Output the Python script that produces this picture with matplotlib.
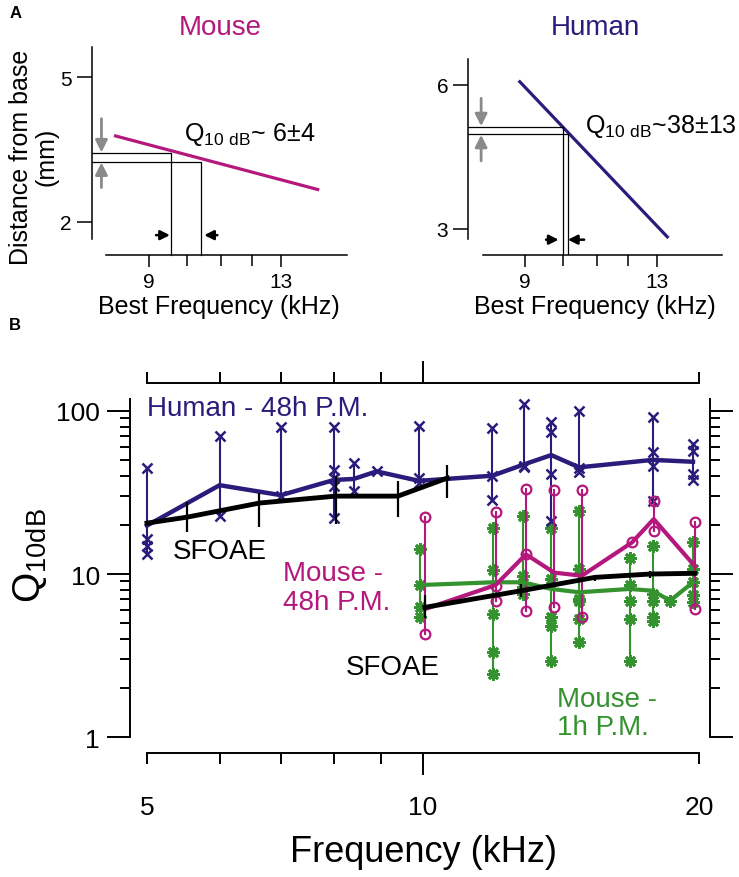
import numpy as np
import matplotlib.pyplot as plt
from matplotlib.ticker import LogLocator, NullFormatter

plt.rcParams['font.family'] = ['Liberation Sans', 'DejaVu Sans']
plt.rcParams['mathtext.fontset'] = 'custom'
plt.rcParams['mathtext.rm'] = 'Liberation Sans'

navy = '#2d1b7b'
magenta = '#b5187d'
green = '#34922f'
gray = '#8a8a8a'

# ---- panel A: place maps ----
mouse_map_f = [8.18, 14.44]
mouse_map_d = [3.79, 2.66]
mouse_band_f = [9.58, 10.40]
mouse_band_d = [3.42, 3.25]

human_map_f = [8.85, 13.43]
human_map_d = [6.09, 2.81]
human_band_f = [10.00, 10.15]
human_band_d = [5.12, 4.98]

# ---- panel B: Q10dB vs frequency ----
human_f = [5.0, 6.0, 7.0, 8.0, 8.4, 8.9, 9.9, 11.9, 12.9, 13.8, 14.8, 17.8, 19.7]
human_mean = [19.8, 35, 30.4, 37.7, 38.2, 42.5, 37.2, 40, 47, 53.5, 45, 50, 48.7]
human_pts = [[44.5, 16.4, 14.9, 13.2], [70.3, 22.7], [79.8, 30.2],
             [79, 43.4, 38.5, 34.7, 21.9], [47.6, 32.1], [42.5],
             [81, 38.5, 36.1], [78, 40, 28.5], [110, 46, 45],
             [85, 73.7, 41, 21.2], [100, 44.4, 42], [91, 55.5, 46, 28],
             [62.5, 56.9, 41, 37.6]]

mouse48_f = [10.05, 12.0, 12.95, 13.9, 14.9, 16.9, 17.85, 19.8]
mouse48_mean = [6.1, 8.56, 13.2, 10.2, 9.76, 15.6, 21.7, 11.15]
mouse48_pts = [[22.2, 4.29], [24.1, 8.5, 6.87], [33.2, 13.2, 5.96], [32.7, 6.25],
               [32.7, 5.43], [15.6], [28.1, 18.4], [20.9, 6.1]]

mouse1_f = [9.93, 11.93, 12.85, 13.8, 14.8, 16.8, 17.8, 18.6, 19.7]
mouse1_mean = [8.56, 8.9, 8.9, 8.1, 7.73, 8.1, 7.9, 6.87, 8.9]
mouse1_pts = [[14.2, 8.56, 6.25, 5.43], [19.1, 10.6, 5.7, 3.31, 2.45],
              [22.7, 9.76, 8.3, 7.5], [19.1, 9.3, 5.43, 4.83, 2.95],
              [24.4, 10.7, 7.03, 6.87, 5.3, 3.81], [12.6, 8.56, 6.87, 5.3, 2.95],
              [14.9, 7.5, 6.87, 5.43, 5.18], [6.87], [15.6, 10.7, 8.9, 7.4, 6.7]]

human_sfoae_f = [5.0, 5.53, 6.63, 8.03, 9.39, 10.63]
human_sfoae_q = [20.5, 22.3, 27.2, 30, 30, 38.7]
human_sfoae_lo = [20.5, 18.1, 19.4, 20.2, 22.3, 29.2]
human_sfoae_hi = [20.5, 27.6, 31.3, 40.0, 37.2, 46.5]

mouse_sfoae_f = [10.05, 12.8, 15.4, 17.7, 19.8]
mouse_sfoae_q = [6.25, 7.9, 9.54, 10.0, 10.1]
mouse_sfoae_lo = [5.35, 7.2, 9.0, 9.5, 10.1]
mouse_sfoae_hi = [7.4, 8.7, 9.9, 10.5, 10.1]

fig = plt.figure(figsize=(7.39, 8.78), dpi=100)
W, H = 739, 878


def px_axes(l, t, r, b):
    return fig.add_axes([l / W, 1 - b / H, (r - l) / W, (b - t) / H])


def map_panel(ax, line_f, line_d, band_f, band_d, color, ylim, yticks, floor,
              arrow_f, gray_y, black_y, black_x, qtext, qpos, title, title_x):
    ax.set_xscale('log')
    ax.set_xlim(7.69, 15.58)
    ax.set_ylim(*ylim)
    for s in ['top', 'right']:
        ax.spines[s].set_visible(False)
    ax.spines['bottom'].set_position(('outward', 11.2))
    ax.spines['bottom'].set_bounds(8.01, 15.58)
    for s in ['left', 'bottom']:
        ax.spines[s].set_linewidth(1.1)
    ax.set_yticks(yticks, labels=[str(v) for v in yticks])
    ax.set_xticks([9, 13], labels=['9', '13'])
    ax.set_xticks([10, 11, 12], minor=True, labels=['', '', ''])
    ax.tick_params(axis='y', length=11, width=1.1, pad=3.5, labelsize=15)
    ax.tick_params(axis='x', which='major', length=8.6, width=1.1, pad=4, labelsize=15)
    ax.tick_params(axis='x', which='minor', length=8, width=1.1)
    ax.patch.set_alpha(0)

    ax.plot(line_f, line_d, color=color, lw=2.3, solid_capstyle='butt')
    x0 = ax.get_xlim()[0]
    for f, d in zip(band_f, band_d):
        ax.plot([x0, f, f], [d, d, floor], color='black', lw=0.9, clip_on=False)

    aprops = dict(arrowstyle='-|>', color=gray, lw=2, mutation_scale=18,
                  shrinkA=0, shrinkB=0)
    ax.annotate('', xy=(arrow_f, gray_y[1]), xytext=(arrow_f, gray_y[0]),
                arrowprops=aprops, annotation_clip=False)
    ax.annotate('', xy=(arrow_f, gray_y[3]), xytext=(arrow_f, gray_y[2]),
                arrowprops=aprops, annotation_clip=False)
    bprops = dict(arrowstyle='-|>', color='black', lw=1.8, mutation_scale=14,
                  shrinkA=0, shrinkB=0)
    ax.annotate('', xy=(black_x[1], black_y), xytext=(black_x[0], black_y),
                arrowprops=bprops, annotation_clip=False)
    ax.annotate('', xy=(black_x[3], black_y), xytext=(black_x[2], black_y),
                arrowprops=bprops, annotation_clip=False)

    ax.text(qpos[0], qpos[1], qtext, fontsize=18, ha='left', va='baseline')
    fig.text(title_x / W, 1 - 28 / H, title, color=color, fontsize=20,
             ha='center', va='center')
    ax.set_xlabel('Best Frequency (kHz)', fontsize=18, labelpad=2)


ax1 = px_axes(91.7, 48, 346.7, 240)
map_panel(ax1, mouse_map_f, mouse_map_d, mouse_band_f, mouse_band_d, magenta,
          (1.64, 5.63), [2, 5], 1.31, 7.9, [4.14, 3.44, 2.71, 3.23], 1.72,
          [9.19, 9.55, 10.89, 10.5], r'Q$_{\mathrm{10\ dB}}$~ 6±4', (9.94, 3.70),
          'Mouse', 220)
ax2 = px_axes(468.3, 60, 721.7, 240)
map_panel(ax2, human_map_f, human_map_d, human_band_f, human_band_d, navy,
          (2.79, 6.54), [3, 6], 2.48, 7.97, [5.72, 5.14, 4.42, 4.96], 2.776,
          [9.55, 9.89, 10.62, 10.15], r'Q$_{\mathrm{10\ dB}}$~38±13', (10.64, 5.015),
          'Human', 595)
fig.text(34 / W, 1 - 157 / H, 'Distance from base\n(mm)', rotation=90,
         ha='center', va='center', fontsize=18, multialignment='center',
         linespacing=1.1)
fig.text(10 / W, 1 - 13 / H, 'A', fontsize=12, weight='bold', ha='left', va='center')
fig.text(9 / W, 1 - 325 / H, 'B', fontsize=12, weight='bold', ha='left', va='center')

# ---- panel B ----
ax = px_axes(130, 400, 710, 738.3)
ax.set_xscale('log')
ax.set_yscale('log')
ax.set_xlim(4.791, 20.56)
ax.set_ylim(1, 118)
for s in ['top', 'bottom']:
    ax.spines[s].set_position(('outward', 11.5))
    ax.spines[s].set_bounds(5, 20)
for s in ax.spines.values():
    s.set_linewidth(1.4)

ax.set_xticks([10], labels=['10'])
ax.set_xticks([5, 6, 7, 8, 9, 20], minor=True, labels=['5', '', '', '', '', '20'])
ax.tick_params(axis='x', which='both', top=True, bottom=True, labeltop=False,
               direction='out', width=1.4, labelsize=19)
ax.tick_params(axis='x', which='major', length=15.8, pad=14)
ax.tick_params(axis='x', which='minor', length=7.7, pad=22.1)

ax.set_yticks([1, 10, 100], labels=['1', '10', '100'])
ax.yaxis.set_minor_locator(LogLocator(subs=np.arange(2, 10)))
ax.yaxis.set_minor_formatter(NullFormatter())
ax.tick_params(axis='y', which='both', left=True, right=True, labelright=False,
               direction='out', width=1.4, labelsize=19)
ax.tick_params(axis='y', which='major', length=16.6, pad=5)
ax.tick_params(axis='y', which='minor', length=7.2)

for f, pts in zip(mouse1_f, mouse1_pts):
    ax.plot([f] * len(pts), sorted(pts), color=green, lw=1.5, marker=(8, 2, 0),
            ms=9, mew=2, clip_on=False)
ax.plot(mouse1_f, mouse1_mean, color=green, lw=3, zorder=3)

for f, pts in zip(human_f, human_pts):
    ax.plot([f] * len(pts), sorted(pts), color=navy, lw=1.5, marker='x',
            ms=7, mew=1.8, clip_on=False)
ax.plot(human_f, human_mean, color=navy, lw=3.2, zorder=3)

for f, pts in zip(mouse48_f, mouse48_pts):
    ax.plot([f] * len(pts), sorted(pts), color=magenta, lw=1.5, marker='o',
            ms=7, mew=1.6, mfc='none', clip_on=False)
ax.plot(mouse48_f, mouse48_mean, color=magenta, lw=3, zorder=3)

ax.vlines(human_sfoae_f, human_sfoae_lo, human_sfoae_hi, color='black', lw=1.6, zorder=4)
ax.plot(human_sfoae_f, human_sfoae_q, color='black', lw=3.5, zorder=4)
ax.vlines(mouse_sfoae_f, mouse_sfoae_lo, mouse_sfoae_hi, color='black', lw=1.6, zorder=4)
ax.plot(mouse_sfoae_f, mouse_sfoae_q, color='black', lw=3.5, zorder=4)

ax.text(5.0, 104, 'Human - 48h P.M.', color=navy, fontsize=20, ha='left', va='center')
ax.text(5.33, 13.9, 'SFOAE', color='black', fontsize=20, ha='left', va='center')
ax.text(7.04, 8.3, 'Mouse -\n48h P.M.', color=magenta, fontsize=20, ha='left',
        va='center', linespacing=1.15)
ax.text(8.23, 2.68, 'SFOAE', color='black', fontsize=20, ha='left', va='center')
ax.text(13.99, 1.41, 'Mouse -\n1h P.M.', color=green, fontsize=20, ha='left',
        va='center', linespacing=1.1)

fig.text(30 / W, 1 - 556 / H, r'Q$_{\mathrm{10dB}}$', rotation=90, ha='center',
         va='center', fontsize=28)
fig.text(423 / W, 1 - 853 / H, 'Frequency (kHz)', ha='center', va='center', fontsize=26)

fig.savefig('out.png', dpi=100)
